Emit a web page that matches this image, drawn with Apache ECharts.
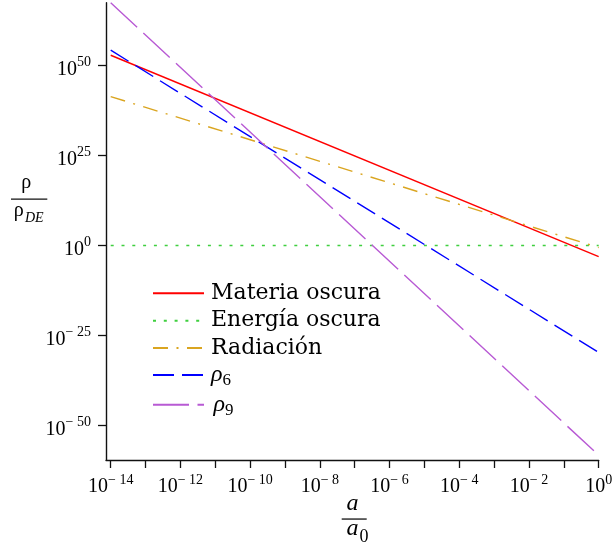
<!DOCTYPE html>
<html><head><meta charset="utf-8">
<script src="https://cdn.jsdelivr.net/npm/echarts@6/dist/echarts.min.js"></script>
<style>html,body{margin:0;padding:0;background:#fff}#c{width:616px;height:551px}</style>
</head><body><div id="c"></div>
<script>
// log10(a/a0) at the two ends of each (straight, log-log) line
const xEnds = [-14, 0];
// log10(rho/rho_DE) at those ends
const materia = [52.9, -3.1];
const energia = [0, 0];
const radiacion = [41.4, -0.55];
const rho6 = [54.3, -29.7];
const rho9 = [67.5, -58.3];
const seriesNames = ['Materia oscura', 'Energía oscura', 'Radiación', 'ρ6', 'ρ9'];
const xTickExps = [-14,-13,-12,-11,-10,-9,-8,-7,-6,-5,-4,-3,-2,-1,0];
const xLabelExps = [-14,-12,-10,-8,-6,-4,-2,0];
const yLabelExps = [-50,-25,0,25,50];

const SERIF = "'Liberation Serif', 'DejaVu Serif', serif";
function pts(v){ return xEnds.map((x,i)=>[x, v[i]]); }
function pow10(v){ return v === 0 ? '{b|10}{s|0}' : (v < 0 ? '{b|10}{s|− ' + (-v) + '}' : '{b|10}{s|' + v + '}'); }
const labelRich = {
  b: {fontFamily: SERIF, fontSize: 20, lineHeight: 28, color: '#000'},
  s: {fontFamily: SERIF, fontSize: 14, lineHeight: 14, verticalAlign: 'top', color: '#000'}
};
const styles = [
  {color: '#ff0000', type: 'solid'},
  {color: '#3fcf3f', type: [3, 7.8]},
  {color: '#daa520', type: [15, 8.5, 2, 8.5]},
  {color: '#0000ff', type: [21, 8]},
  {color: '#b85ad4', type: [36, 8.5]}
];
const values = [materia, energia, radiacion, rho6, rho9];
const legendTops = [282, 309.5, 336.7, 363, 392.7];

function legendFor(name, top){
  return {
    orient: 'vertical', left: 152, top: top, padding: 0,
    itemWidth: 51, itemHeight: 28, itemGap: 0,
    selectedMode: false,
    itemStyle: {opacity: 0},
    data: [name],
    formatter: function(n){
      if (n === 'ρ6') return '{r|ρ}{sub|6}';
      if (n === 'ρ9') return '{sp| }{r|ρ}{sub|9}';
      return '{t|' + n + '}';
    },
    textStyle: {
      color: '#000', padding: [0, 0, 0, 2],
      rich: {
        t: {fontFamily: "'DejaVu Serif', serif", fontSize: 22, lineHeight: 28, color: '#000'},
        r: {fontFamily: SERIF, fontStyle: 'italic', fontSize: 24, lineHeight: 28, color: '#000'},
        sub: {fontFamily: SERIF, fontSize: 17, lineHeight: 28, verticalAlign: 'bottom', color: '#000'},
        sp: {fontFamily: SERIF, fontSize: 10, lineHeight: 28}
      }
    }
  };
}

const chart = echarts.init(document.getElementById('c'));
chart.setOption({
  animation: false,
  grid: {left: 106, right: 17.3, top: 2.7, bottom: 91, containLabel: false, outerBoundsMode: 'none'},
  xAxis: {
    type: 'value', min: -14.135, max: 0,
    splitLine: {show: false},
    axisLine: {onZero: false, lineStyle: {color: '#111', width: 1.4}},
    axisTick: {customValues: xTickExps, length: 8, lineStyle: {color: '#111', width: 1.3}},
    axisLabel: {customValues: xLabelExps, formatter: pow10, rich: labelRich, margin: 13}
  },
  yAxis: {
    type: 'value', min: -59.6, max: 67.5,
    splitLine: {show: false},
    axisLine: {onZero: false, lineStyle: {color: '#111', width: 1.4}},
    axisTick: {customValues: yLabelExps, length: 8, lineStyle: {color: '#111', width: 1.3}},
    axisLabel: {customValues: yLabelExps, formatter: pow10, rich: labelRich, margin: 15, padding: [8, 0, 0, 0]}
  },
  legend: seriesNames.map((n, i) => legendFor(n, legendTops[i])),
  series: values.map((v, i) => ({
    name: seriesNames[i], type: 'line', data: pts(v),
    symbol: 'none', showSymbol: false, silent: true,
    lineStyle: {color: styles[i].color, type: styles[i].type, width: 1.4},
    itemStyle: {color: styles[i].color, opacity: 0}
  })),
  graphic: [
    {type: 'text', x: 26.2, y: 182.5, style: {text: 'ρ', font: '20px ' + SERIF, fill: '#000', align: 'center', verticalAlign: 'middle'}},
    {type: 'rect', shape: {x: 11, y: 198.4, width: 36.3, height: 1.3}, style: {fill: '#111'}},
    {type: 'text', x: 18.7, y: 210.8, style: {text: 'ρ', font: '20px ' + SERIF, fill: '#000', align: 'center', verticalAlign: 'middle'}},
    {type: 'text', x: 25, y: 218.6, style: {text: 'DE', font: 'italic 14px ' + SERIF, fill: '#000', align: 'left', verticalAlign: 'middle'}},
    {type: 'text', x: 352.5, y: 503.6, style: {text: 'a', font: 'italic 24px ' + SERIF, fill: '#000', align: 'center', verticalAlign: 'middle'}},
    {type: 'rect', shape: {x: 341.7, y: 518.4, width: 25, height: 1.3}, style: {fill: '#111'}},
    {type: 'text', x: 352.5, y: 528.6, style: {text: 'a', font: 'italic 24px ' + SERIF, fill: '#000', align: 'center', verticalAlign: 'middle'}},
    {type: 'text', x: 359.5, y: 537, style: {text: '0', font: '18px ' + SERIF, fill: '#000', align: 'left', verticalAlign: 'middle'}}
  ]
});
</script>
</body></html>
